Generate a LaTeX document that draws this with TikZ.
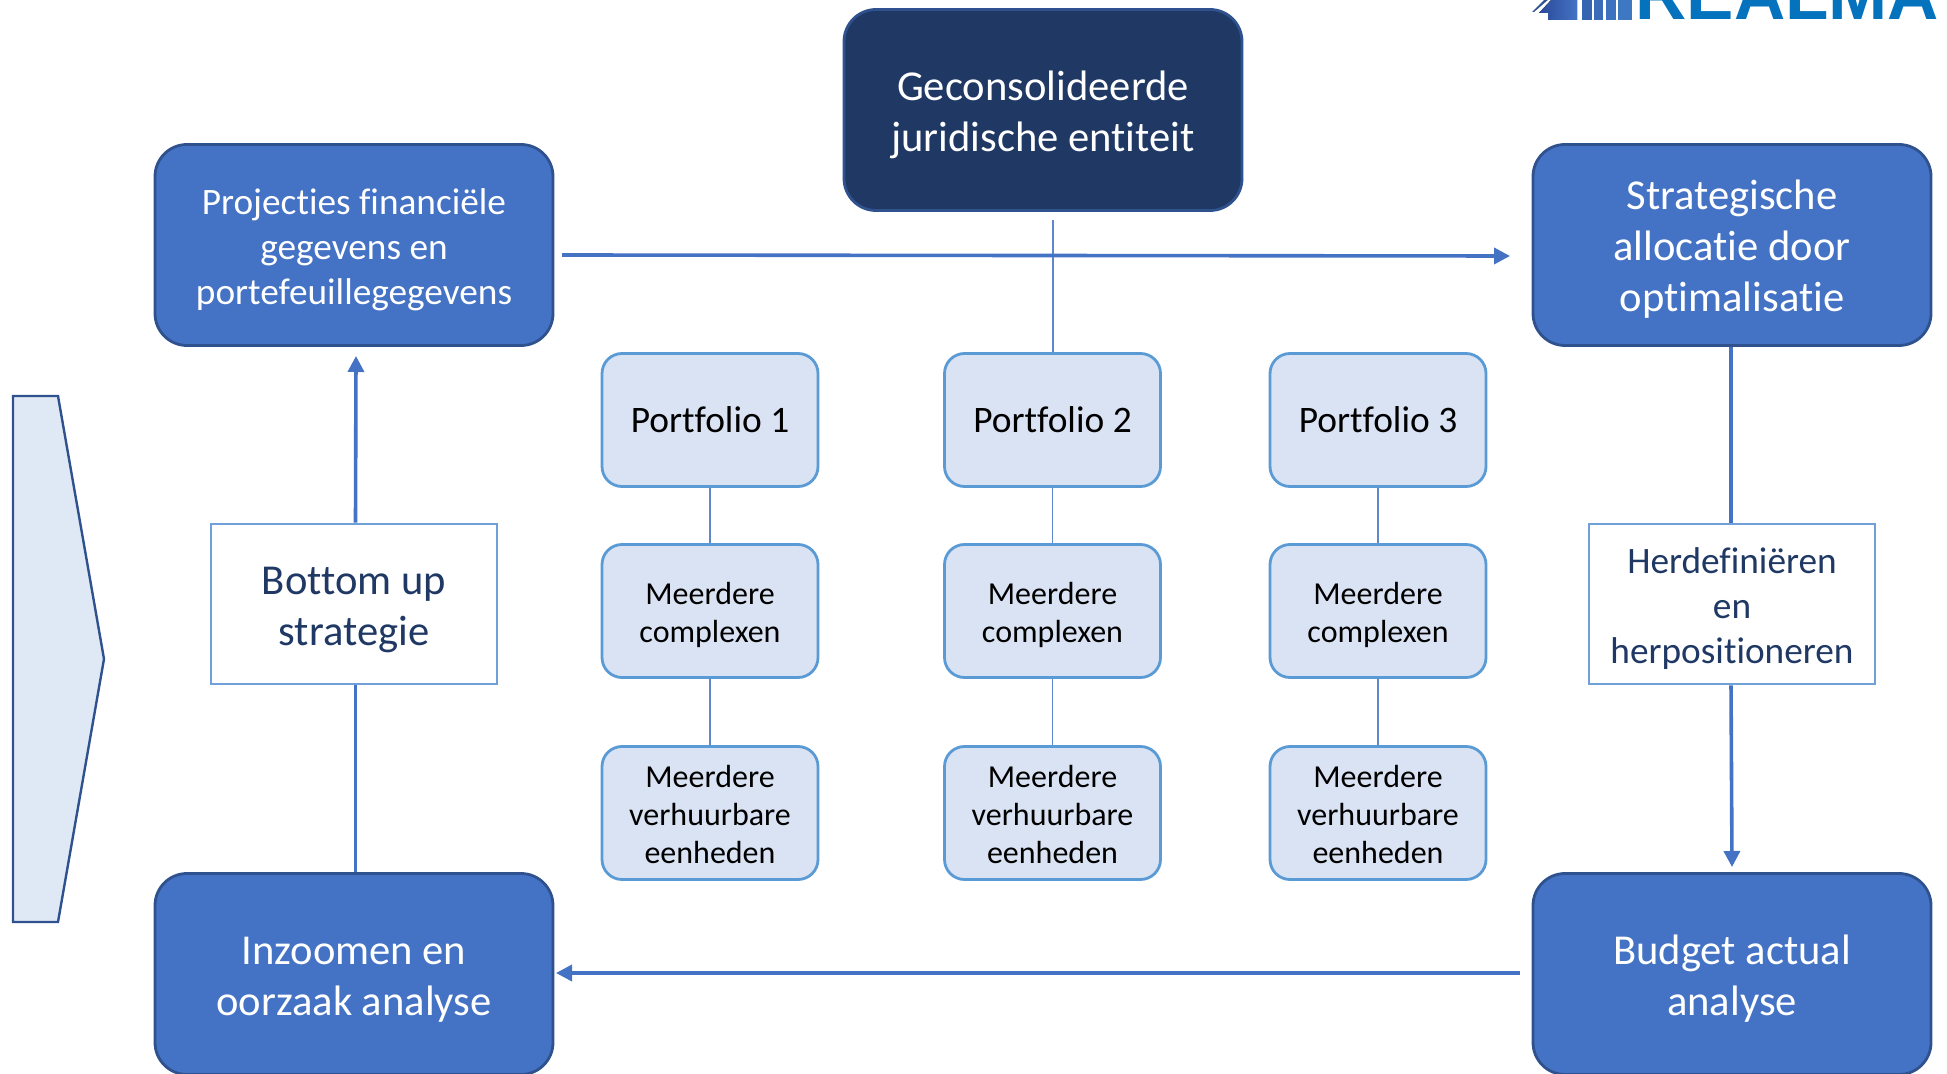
\documentclass[tikz,border=0pt]{standalone}
\usepackage{fontspec}
\setmainfont{Carlito}[RawFeature={-liga;-clig;-dlig}]
\newfontfamily\logofont{Liberation Sans}
\usetikzlibrary{arrows.meta}
\definecolor{bigblue}{HTML}{4472C4}
\definecolor{bigline}{HTML}{2F528F}
\definecolor{darkbox}{HTML}{1F3864}
\definecolor{pale}{HTML}{DAE3F3}
\definecolor{paleline}{HTML}{5B9BD5}
\definecolor{whitebox}{HTML}{6FA0D8}
\definecolor{chev}{HTML}{DEE9F5}
\definecolor{txtnavy}{HTML}{1F3864}
\definecolor{logoblue}{HTML}{0572BE}
\newcommand\nudgetext[1]{\rule{0pt}{\dimexpr 0.73em+#1\relax}}
\tikzset{
 bigbox/.style={draw=bigline,line width=1.4pt,fill=bigblue,rounded corners=16pt,minimum width=199pt,minimum height=100.5pt,text=white,align=center,inner sep=0pt,font=\fontsize{21.3}{25.5}\selectfont},
 smallbig/.style={font=\fontsize{18.65}{22.6}\selectfont},
 darkstyle/.style={bigbox,fill=darkbox},
 pbox/.style={draw=paleline,line width=1.4pt,fill=pale,rounded corners=10pt,minimum width=108pt,minimum height=66.5pt,text=black,align=center,inner sep=0pt},
 ptop/.style={font=\fontsize{18.7}{22}\selectfont},
 pmid/.style={font=\fontsize{16}{19}\selectfont},
 wbox/.style={draw=whitebox,line width=1.4pt,fill=white,minimum width=143pt,minimum height=80pt,text=txtnavy,align=center,inner sep=0pt,font=\fontsize{21.3}{25.5}\selectfont},
 thinlink/.style={draw=bigblue!85!white,line width=0.75pt},
 flow/.style={draw=bigblue,line width=1.8pt},
 flowtip/.style={flow,-{Triangle[length=8pt,width=8pt]}},
}
\begin{document}
\begin{tikzpicture}[x=0.5pt,y=-0.5pt]
\useasboundingbox (0,0) rectangle (1947,1074);
\clip (0,0) rectangle (1947,1074);
% logo
\begin{scope}
\clip (1500,0) rectangle (1947,20);
\fill[left color=bigline!90!blue,right color=bigblue] (1548,20) -- (1548,13) -- (1539,13) -- (1552,-1) -- (1577,-1) -- (1577,20) -- cycle;
\fill[bigline] (1532,12) -- (1545,-1) -- (1549,-1) -- (1534,12) -- cycle;
\foreach \xa/\xb/\col in {1582/1592/3565B0,1594/1603/3A6CB8,1606/1616/3C72BE,1618/1632/3F78C2}{
 \definecolor{barcol}{HTML}{\col}
 \fill[barcol] (\xa,-1) rectangle (\xb,20);}
\node[anchor=base west,inner sep=0pt,text=logoblue,font=\logofont\bfseries\fontsize{35.5}{40}\selectfont] (logo) at (1635,20) {REALMA};
\end{scope}
% chevron
\draw[draw=bigline,line width=1.2pt,fill=chev] (13,396) -- (58,396) -- (104,659) -- (58,922) -- (13,922) -- cycle;
% nodes
\node[darkstyle] (ent) at (1043,110) {\nudgetext{3.8pt}Geconsolideerde\\juridische entiteit};
\node[bigbox,smallbig] (proj) at (354,245) {\nudgetext{3.8pt}Projecties financiële\\gegevens en\\portefeuillegegevens};
\node[bigbox] (strat) at (1732,245) {\nudgetext{3.5pt}Strategische\\allocatie door\\optimalisatie};
\node[bigbox] (zoomn) at (354,974) {\nudgetext{3.8pt}Inzoomen en\\oorzaak analyse};
\node[bigbox] (budget) at (1732,974) {\nudgetext{3.8pt}Budget actual\\analyse};
\node[wbox] (bottom) at (354,604) {\nudgetext{3.8pt}Bottom up\\strategie};
\node[wbox,smallbig] (herd) at (1732,604) {\nudgetext{3.8pt}Herdefiniëren\\en\\herpositioneren};
\foreach \n/\x in {1/710,2/1052.5,3/1378}{
 \node[pbox,ptop] (p\n) at (\x,420) {Portfolio \n};
 \node[pbox,pmid] (c\n) at (\x,611) {\nudgetext{3pt}Meerdere\\complexen};
 \node[pbox,pmid] (v\n) at (\x,813) {\nudgetext{0.5pt}Meerdere\\verhuurbare\\eenheden};
}
% connectors
\coordinate (topend) at (1053,220);
\coordinate (ra) at (562,255);
\coordinate (rb) at (1510,256);
\coordinate (la) at (1520,973);
\coordinate (lb) at (556,973);
\coordinate (upend) at (356,356);
\coordinate (downend) at (1732,867);
\coordinate (leftx) at (355.5,600);
\coordinate (rightx) at (1731,600);
\foreach \n in {1,2,3}{
 \draw[thinlink] (p\n) -- (c\n);
 \draw[thinlink] (c\n) -- (v\n);
}
\draw[thinlink] (topend) -- (p2.north -| topend);
\draw[flowtip] (ra) -- (rb);
\draw[flowtip] (la) -- (lb);
\draw[flow] (zoomn.north -| leftx) -- (bottom.south -| leftx);
\draw[flowtip] (bottom.north -| leftx) -- (upend);
\draw[flow] (strat.south -| rightx) -- (herd.north -| rightx);
\draw[flowtip] (herd.south -| rightx) -- (downend);
\end{tikzpicture}
\end{document}
